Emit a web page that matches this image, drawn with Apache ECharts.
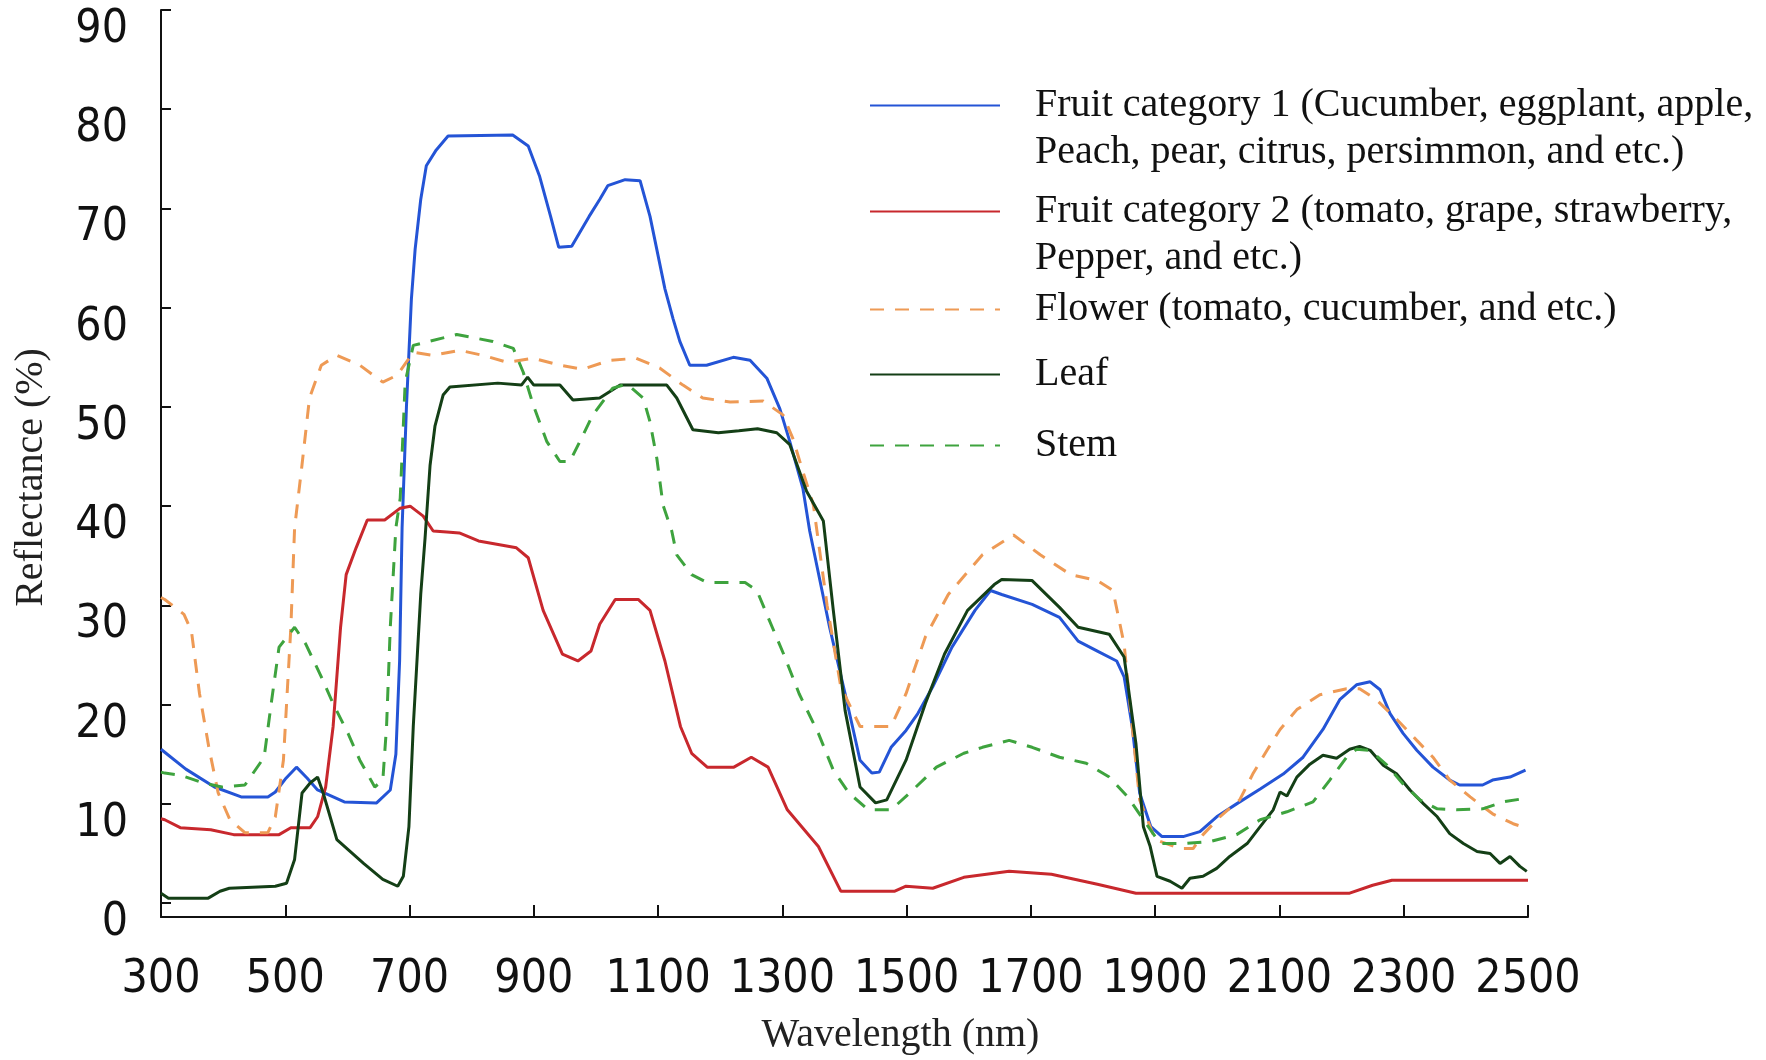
<!DOCTYPE html>
<html>
<head>
<meta charset="utf-8">
<title>Reflectance spectra</title>
<script src="https://cdn.jsdelivr.net/npm/echarts@6.0.0/dist/echarts.min.js"></script>
<style>
  * { margin: 0; padding: 0; }
  body { background: #fff; }
  #chart { width: 1766px; height: 1060px; }
</style>
</head>
<body>
<div id="chart"></div>
<script>
// wavelength (nm), reflectance (%)
const fruit1 = [
  [300, 15.5], [306, 15.2], [340, 13.5], [386, 11.7], [429, 10.7], [472, 10.7], [484, 11.2], [500, 12.5],
  [518, 13.7], [535, 12.6], [552, 11.4], [595, 10.2], [647, 10.1], [669, 11.4], [678, 15], [684, 24.4],
  [688, 37.8], [695, 50], [703, 60.9], [709, 65.9], [718, 70.9], [727, 74.3], [743, 75.9], [762, 77.3],
  [866, 77.4], [891, 76.3], [909, 73.3], [927, 69.2], [940, 66.1], [961, 66.2], [989, 69.2], [1006, 70.9],
  [1019, 72.3], [1047, 72.9], [1071, 72.8], [1087, 69.2], [1111, 61.9], [1124, 58.9], [1135, 56.6],
  [1151, 54.2], [1178, 54.2], [1221, 55.0], [1248, 54.7], [1275, 52.9], [1296, 49.8], [1312, 46.5],
  [1333, 41.8], [1344, 37.5], [1376, 27.8], [1401, 21.1], [1425, 14.4], [1444, 13.1], [1456, 13.2],
  [1475, 15.7], [1499, 17.4], [1518, 19.1], [1542, 21.8], [1573, 25.8], [1610, 29.5], [1635, 31.5],
  [1653, 31.1], [1702, 30.1], [1746, 28.8], [1776, 26.4], [1807, 25.4], [1838, 24.4], [1850, 22.8],
  [1863, 17.8], [1875, 11.1], [1893, 7.7], [1911, 6.7], [1945, 6.7], [1972, 7.2], [1999, 8.7],
  [2031, 10.0], [2069, 11.5], [2106, 13.0], [2138, 14.7], [2170, 17.5], [2197, 20.5], [2224, 22.0],
  [2246, 22.3], [2262, 21.5], [2278, 19.1], [2299, 17.1], [2321, 15.4], [2347, 13.7], [2374, 12.4],
  [2390, 11.9], [2427, 11.9], [2443, 12.4], [2471, 12.7], [2496, 13.4]
];
const fruit2 = [
  [300, 8.5], [306, 8.4], [331, 7.6], [380, 7.4], [417, 6.9], [490, 6.9], [509, 7.6], [540, 7.6],
  [552, 8.7], [565, 11.7], [577, 17.8], [589, 27.8], [598, 33.1], [614, 35.8], [632, 38.6], [660, 38.6],
  [685, 39.8], [701, 40.0], [722, 39.0], [738, 37.5], [760, 37.4], [780, 37.3], [811, 36.5], [872, 35.8],
  [891, 34.8], [915, 29.5], [946, 25.1], [971, 24.4], [992, 25.4], [1006, 28.1], [1031, 30.6],
  [1068, 30.6], [1087, 29.5], [1111, 24.4], [1136, 17.8], [1154, 15.1], [1179, 13.7], [1222, 13.7],
  [1250, 14.7], [1277, 13.7], [1308, 9.4], [1358, 5.7], [1394, 1.2], [1481, 1.2], [1499, 1.7],
  [1542, 1.5], [1592, 2.6], [1665, 3.2], [1733, 2.9], [1807, 1.9], [1869, 1.0], [2213, 1.0],
  [2250, 1.8], [2281, 2.3], [2500, 2.3]
];
const flower = [
  [300, 30.8], [306, 30.6], [337, 29.1], [349, 27.4], [362, 21.1], [377, 15.7], [392, 11.1], [411, 8.4],
  [435, 7.1], [472, 7.1], [484, 8.7], [497, 14.4], [509, 27.8], [515, 37.8], [527, 44.2], [539, 50.9],
  [558, 54.2], [583, 55.2], [620, 54.2], [657, 52.5], [680, 53.2], [706, 55.5], [738, 55.2], [781, 55.7],
  [818, 55.2], [857, 54.5], [899, 54.9], [942, 54.2], [979, 53.8], [1022, 54.7], [1065, 54.9],
  [1103, 53.9], [1140, 52.2], [1172, 50.9], [1216, 50.5], [1269, 50.6], [1301, 49.2], [1317, 46.8],
  [1333, 43.5], [1350, 40.1], [1372, 30.0], [1394, 21.8], [1425, 17.8], [1475, 17.8], [1499, 21.1],
  [1530, 26.8], [1567, 31.1], [1622, 35.1], [1672, 37.1], [1715, 35.1], [1764, 33.1], [1807, 32.5],
  [1832, 31.5], [1850, 26.1], [1863, 17.8], [1875, 10.4], [1900, 6.4], [1940, 5.5], [1961, 5.5],
  [1977, 6.9], [2004, 8.7], [2036, 10.4], [2057, 13.0], [2080, 15.4], [2101, 17.5], [2128, 19.5],
  [2165, 21.0], [2208, 21.6], [2229, 21.6], [2256, 20.5], [2289, 18.5], [2321, 16.4], [2347, 14.7],
  [2374, 12.4], [2407, 10.7], [2443, 9.0], [2476, 8.0], [2500, 7.5]
];
const leaf = [
  [300, 1.0], [312, 0.5], [376, 0.5], [395, 1.2], [410, 1.5], [484, 1.7], [502, 2.0], [515, 4.4],
  [527, 11.1], [540, 12.1], [552, 12.7], [561, 11.1], [583, 6.4], [626, 4.0], [657, 2.4], [681, 1.7],
  [690, 2.7], [699, 7.7], [706, 17.8], [718, 31.1], [725, 36.8], [733, 44.1], [741, 48.1], [754, 51.2],
  [765, 52.0], [842, 52.4], [880, 52.2], [890, 53.0], [900, 52.2], [942, 52.2], [963, 50.7],
  [1006, 50.9], [1039, 52.2], [1114, 52.2], [1130, 50.9], [1156, 47.7], [1197, 47.4], [1230, 47.6],
  [1260, 47.8], [1291, 47.4], [1312, 46.2], [1339, 41.5], [1366, 38.5], [1382, 29.5], [1401, 19.4],
  [1425, 11.7], [1450, 10.1], [1468, 10.4], [1499, 14.4], [1530, 20.1], [1561, 25.1], [1598, 29.5],
  [1641, 32.1], [1653, 32.6], [1702, 32.5], [1746, 29.8], [1776, 27.8], [1826, 27.1], [1850, 24.8],
  [1869, 16.1], [1881, 7.7], [1892, 5.7], [1903, 2.7], [1924, 2.2], [1943, 1.5], [1956, 2.5],
  [1977, 2.7], [1999, 3.5], [2020, 4.7], [2048, 6.0], [2069, 7.7], [2090, 9.4], [2101, 11.2],
  [2112, 10.8], [2128, 12.7], [2149, 14.0], [2170, 14.9], [2192, 14.6], [2213, 15.5], [2229, 15.8],
  [2246, 15.4], [2267, 13.9], [2289, 13.0], [2310, 11.4], [2332, 10.0], [2354, 8.7], [2374, 7.0],
  [2396, 6.0], [2418, 5.2], [2439, 5.0], [2455, 4.0], [2471, 4.7], [2487, 3.7], [2498, 3.2]
];
const stem = [
  [300, 13.2], [306, 13.1], [331, 12.9], [368, 12.1], [398, 11.7], [435, 11.9], [466, 14.7], [478, 20.4],
  [490, 25.8], [515, 27.8], [533, 26.1], [558, 22.8], [577, 20.1], [601, 17.1], [620, 14.4], [644, 11.7],
  [657, 12.4], [663, 17.8], [669, 27.8], [678, 37.8], [685, 40.8], [693, 52.5], [706, 56.2], [776, 57.3],
  [834, 56.6], [867, 55.9], [883, 53.5], [899, 50.2], [921, 46.5], [942, 44.5], [958, 44.5], [974, 46.5],
  [995, 49.2], [1027, 51.9], [1050, 52.3], [1076, 50.9], [1087, 48.5], [1098, 44.8], [1108, 40.1],
  [1122, 37.5], [1130, 35.1], [1154, 33.1], [1179, 32.3], [1240, 32.3], [1259, 31.5], [1277, 28.8],
  [1302, 25.1], [1327, 21.1], [1358, 17.1], [1382, 13.4], [1407, 11.1], [1438, 9.4], [1475, 9.4],
  [1505, 11.1], [1548, 13.7], [1592, 15.1], [1622, 15.7], [1665, 16.4], [1702, 15.7], [1746, 14.7],
  [1789, 14.1], [1826, 12.7], [1856, 10.7], [1881, 8.4], [1908, 6.0], [1945, 6.0], [1988, 6.2],
  [2031, 6.9], [2069, 8.4], [2112, 9.2], [2154, 10.2], [2181, 12.4], [2208, 14.7], [2224, 15.5],
  [2246, 15.4], [2273, 13.9], [2299, 12.0], [2326, 10.4], [2354, 9.5], [2385, 9.4], [2427, 9.5],
  [2460, 10.2], [2490, 10.5]
];

const xTicks = [300, 500, 700, 900, 1100, 1300, 1500, 1700, 1900, 2100, 2300, 2500];
const yTicks = [0, 10, 20, 30, 40, 50, 60, 70, 80, 90];

const names = [
  'Fruit category 1 (Cucumber, eggplant, apple,\nPeach, pear, citrus, persimmon, and etc.)',
  'Fruit category 2 (tomato, grape, strawberry,\nPepper, and etc.)',
  'Flower (tomato, cucumber, and etc.)',
  'Leaf',
  'Stem'
];

const serif = "'Liberation Serif', 'Times New Roman', serif";
const narrow = "'Liberation Sans Narrow', 'DejaVu Sans Condensed', sans-serif";

// one legend per entry so each row sits where it does in the figure
function legendAt(name, top, twoLines) {
  return {
    data: [name],
    left: 869,
    top: top,
    padding: 0,
    itemWidth: 130,
    itemHeight: 14,
    selectedMode: false,
    itemStyle: { opacity: 0 },
    // a blank first line keeps the icon level with the first text line
    formatter: twoLines ? (n => '\n' + n) : (n => n),
    textStyle: {
      fontFamily: serif,
      fontSize: 40,
      lineHeight: 47,
      color: '#111',
      padding: [0, 0, 0, 30]
    }
  };
}

function line(name, data, color, dashed) {
  return {
    name: name,
    type: 'line',
    data: data,
    showSymbol: false,
    symbol: 'none',
    lineStyle: { color: color, width: 3, type: dashed ? [14, 11] : 'solid' },
    itemStyle: { color: color }
  };
}

const chart = echarts.init(document.getElementById('chart'));
chart.setOption({
  animation: false,
  backgroundColor: '#fff',
  grid: { left: 161, right: 238, top: 10, bottom: 139 },
  legend: [
    legendAt(names[0], 35, true),
    legendAt(names[1], 141, true),
    legendAt(names[2], 286, false),
    legendAt(names[3], 351, false),
    legendAt(names[4], 422, false)
  ],
  xAxis: {
    type: 'value',
    min: 300,
    max: 2500,
    name: 'Wavelength (nm)',
    nameLocation: 'middle',
    nameGap: 98,
    nameTextStyle: { fontFamily: serif, fontSize: 40, color: '#222', padding: [0, 0, 0, 112] },
    axisLine: { onZero: false, lineStyle: { color: '#111', width: 2 } },
    axisTick: { inside: true, length: 12, customValues: xTicks, lineStyle: { color: '#111', width: 2 } },
    axisLabel: {
      customValues: xTicks, margin: 40, fontFamily: narrow, fontSize: 46, color: '#111',
      formatter: v => String(v)
    },
    splitLine: { show: false }
  },
  yAxis: {
    type: 'value',
    min: -1.4,
    max: 90,
    name: 'Reflectance (%)',
    nameLocation: 'middle',
    nameGap: 110,
    nameTextStyle: { fontFamily: serif, fontSize: 40, color: '#222', padding: [0, 28, 0, 0] },
    axisLine: { onZero: false, lineStyle: { color: '#111', width: 2 } },
    axisTick: { inside: true, length: 10, customValues: yTicks, lineStyle: { color: '#111', width: 2 } },
    axisLabel: {
      customValues: yTicks, margin: 33, fontFamily: narrow, fontSize: 46, color: '#111',
      verticalAlign: 'top',
      lineHeight: 40,
      formatter: v => String(v)
    },
    splitLine: { show: false }
  },
  series: [
    line(names[0], fruit1, '#2454d6', false),
    line(names[1], fruit2, '#c8282d', false),
    line(names[2], flower, '#ee9a55', true),
    line(names[3], leaf, '#143f16', false),
    line(names[4], stem, '#3ea33e', true)
  ]
});
</script>
</body>
</html>
